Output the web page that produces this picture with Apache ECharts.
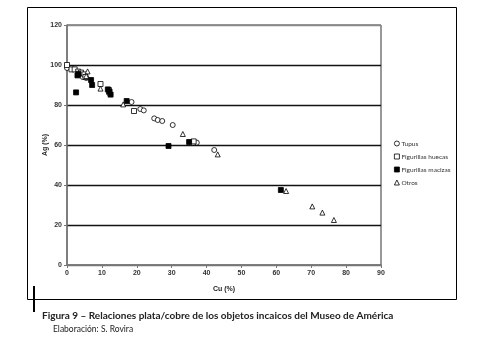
<!DOCTYPE html>
<html><head><meta charset="utf-8">
<script src="https://cdn.jsdelivr.net/npm/echarts@6/dist/echarts.min.js"></script>
<style>html,body{margin:0;padding:0;background:#fff}#c{width:488px;height:342px}</style>
</head><body><div id="c"></div>
<script>
var xTicks = [0,10,20,30,40,50,60,70,80,90];
var yTicks = [0,20,40,60,80,100,120];
var seriesNames = ['Tupus','Figurillas huecas','Figurillas macizas','Otros'];
var tupus = [[0,98.5],[4.5,94],[5.5,93.5],[12,86],[18.5,81.5],[21,78],[22,77.3],[25,73.3],[26,72.5],[27.3,72],[30.3,70],[37.2,61.2],[42.2,57.5]];
var huecas = [[0,100],[1.3,97.8],[2.2,97.8],[3.2,96.7],[4,96.2],[5,95.3],[5.3,94],[9.6,90.5],[12,87.5],[19.2,77],[36.3,61.8]];
var macizas = [[2.6,86.3],[3,94.8],[3.3,95.6],[6.9,92.5],[7.2,90],[11.7,87.8],[12.2,86.7],[12.5,85.2],[17.1,82],[29.1,59.5],[35,61.5],[61.3,37.5]];
var otros = [[5.9,96.8],[5.5,94.5],[9.6,88.2],[16.1,80.3],[33.2,65.5],[43.2,55.3],[62.8,37],[70.3,29.3],[73.2,26.2],[76.5,22.5]];
var caption = 'Figura 9 – Relaciones plata/cobre de los objetos incaicos del Museo de América';
var credit = 'Elaboración: S. Rovira';

var chart = echarts.init(document.getElementById('c'), null, {renderer:'canvas'});
function s(name, data, symbol, fill){
  return {name:name, type:'scatter', data:data, symbol:symbol, symbolSize:5,
    itemStyle:{color:fill, borderColor:'#000', borderWidth:0.8, opacity:1}};
}
chart.setOption({
  animation:false,
  grid:{left:67, right:107, top:25, bottom:77, show:true, borderColor:'#333', borderWidth:1},
  xAxis:{type:'value', min:xTicks[0], max:xTicks[xTicks.length-1], interval:10,
    name:'Cu (%)', nameLocation:'middle', nameGap:21,
    nameTextStyle:{fontFamily:'Liberation Sans', fontWeight:'bold', fontSize:7, color:'#222'},
    axisLine:{lineStyle:{color:'#777', width:1.5}},
    axisTick:{show:true, length:3, lineStyle:{color:'#777'}},
    axisLabel:{fontFamily:'Liberation Sans', fontWeight:'bold', fontSize:7, color:'#333', margin:5},
    splitLine:{show:false}},
  yAxis:{type:'value', min:yTicks[0], max:yTicks[yTicks.length-1], interval:20,
    name:'Ag (%)', nameLocation:'middle', nameGap:18, nameRotate:90, nameMoveOverlap:false,
    nameTextStyle:{fontFamily:'Liberation Sans', fontWeight:'bold', fontSize:7, color:'#222'},
    axisLine:{lineStyle:{color:'#777', width:1.5}},
    axisTick:{show:true, length:3, lineStyle:{color:'#777'}},
    axisLabel:{fontFamily:'Liberation Sans', fontWeight:'bold', fontSize:7, color:'#333', margin:5},
    splitLine:{show:true, lineStyle:{color:['#777','#111','#111','#111','#111','#111','#888'], width:1.3}}},
  legend:{orient:'vertical', left:389, top:135, itemWidth:5, itemHeight:5, itemGap:6,
    itemStyle:{borderWidth:0.8},
    textStyle:{fontFamily:'Lato', fontSize:6.5, color:'#333', padding:[0,0,0,-3]},
    data:seriesNames},
  series:[
    s(seriesNames[0], tupus, 'circle', '#fff'),
    s(seriesNames[1], huecas, 'rect', '#fff'),
    s(seriesNames[2], macizas, 'rect', '#000'),
    s(seriesNames[3], otros, 'triangle', '#fff')
  ],
  graphic:[
    {type:'rect', shape:{x:27.5, y:7.5, width:429, height:292}, style:{fill:null, stroke:'#000', lineWidth:1}, silent:true},
    {type:'rect', shape:{x:33, y:286, width:2, height:26}, style:{fill:'#000'}},
    {type:'text', left:42, top:311, style:{text:caption, font:'bold 10px Lato', fill:'#222'}},
    {type:'text', left:53, top:325, style:{text:credit, font:'8.5px Lato', fill:'#222'}}
  ]
});
</script></body></html>
